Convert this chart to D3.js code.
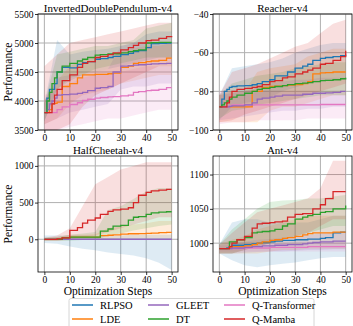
<!DOCTYPE html>
<html>
<head>
<meta charset="utf-8">
<script src="https://cdn.jsdelivr.net/npm/d3@7"></script>
<style>
  body { margin: 0; background: #fff; }
  svg text { font-family: "Liberation Serif", "DejaVu Serif", serif; fill: #000; }
</style>
</head>
<body>
<div id="chart"></div>
<script>
// ---- data ----
const methods = ['RLPSO', 'LDE', 'GLEET', 'DT', 'Q-Transformer', 'Q-Mamba'];
const colors = ['#1f77b4', '#ff7f0e', '#9467bd', '#2ca02c', '#e377c2', '#d62728'];
const drawOrder = [0, 1, 4, 2, 3, 5];

const steps = [0, 1, 2, 3, 4, 5, 7, 10, 13, 15, 17, 20, 22, 25, 27, 30, 33, 35, 37, 40, 42, 45, 48, 50];
const bandSteps = [0, 5, 10, 15, 20, 25, 30, 35, 40, 45, 50];

// InvertedDoublePendulum-v4
const idpMean = [
  [3800, 4050, 4200, 4200, 4300, 4500, 4580, 4570, 4630, 4660, 4680, 4720, 4730, 4750, 4770, 4800, 4820, 4850, 4870, 4920, 4990, 4995, 5000, 5000],
  [3800, 3800, 3850, 3950, 3960, 3980, 4250, 4300, 4400, 4450, 4450, 4460, 4460, 4470, 4480, 4580, 4600, 4650, 4660, 4680, 4690, 4700, 4740, 4740],
  [3800, 3850, 3950, 4000, 4050, 4100, 4110, 4120, 4130, 4150, 4180, 4220, 4230, 4250, 4500, 4600, 4610, 4620, 4625, 4630, 4640, 4645, 4650, 4650],
  [3800, 4000, 4150, 4300, 4400, 4500, 4600, 4650, 4690, 4720, 4750, 4790, 4800, 4810, 4815, 4830, 4850, 4870, 4880, 5000, 5005, 5010, 5010, 5010],
  [3800, 3800, 3800, 3800, 3800, 3850, 3900, 3940, 3970, 4010, 4030, 4050, 4060, 4070, 4075, 4090, 4100, 4150, 4160, 4180, 4185, 4200, 4230, 4230],
  [3800, 3800, 3800, 3950, 4100, 4200, 4350, 4450, 4580, 4650, 4680, 4750, 4770, 4800, 4830, 4880, 4920, 4960, 5000, 5040, 5050, 5080, 5110, 5120]
];
const idpLow = [
  [3650, 4200, 4350, 4450, 4500, 4550, 4600, 4650, 4700, 4750, 4750],
  [3600, 3700, 3950, 4100, 4150, 4200, 4300, 4350, 4400, 4450, 4450],
  [3600, 3700, 3800, 3850, 3900, 3950, 4200, 4250, 4250, 4300, 4300],
  [3650, 4200, 4400, 4450, 4550, 4600, 4650, 4700, 4750, 4750, 4750],
  [3500, 3500, 3550, 3600, 3650, 3700, 3700, 3750, 3800, 3850, 3850],
  [3500, 3500, 3600, 3900, 4100, 4200, 4300, 4400, 4500, 4600, 4600]
];
const idpHigh = [
  [3950, 5050, 4800, 4850, 4880, 4900, 4950, 5000, 5150, 5200, 5200],
  [4000, 4350, 4600, 4700, 4750, 4750, 4850, 4900, 4950, 4950, 5000],
  [4000, 4400, 4450, 4450, 4500, 4550, 4950, 5000, 5000, 5000, 5000],
  [3950, 4800, 4850, 4900, 4950, 4950, 5000, 5050, 5250, 5300, 5350],
  [4100, 4200, 4300, 4400, 4450, 4450, 4500, 4550, 4600, 4600, 4600],
  [4600, 4800, 5000, 5050, 5100, 5150, 5200, 5250, 5300, 5350, 5350]
];

// Reacher-v4
const reacherMean = [
  [-88, -84, -80, -79, -78, -77.5, -77.2, -77, -76.6, -76, -75, -74, -72, -72, -70, -68, -67, -66, -64, -63, -62.5, -62, -61.5, -61],
  [-88, -88, -88, -88, -88, -88, -88, -88, -80, -80, -78, -77.5, -77.3, -77, -76.8, -76.5, -76, -75, -71, -70.5, -70.3, -70, -70, -70],
  [-88, -88, -88, -88, -87.8, -87.5, -87.5, -87, -86, -84, -83.5, -83, -82.5, -82, -82, -82, -81.5, -81.5, -81, -81, -80.8, -80.5, -80, -80],
  [-88, -87, -86, -85, -84, -83, -82, -81, -80, -79, -78.5, -78, -77.5, -77, -76.5, -76, -75.8, -75.5, -75, -74.5, -74.3, -74, -73.5, -73],
  [-88, -88, -88, -88, -87.5, -87, -87, -87, -87, -87, -87, -87, -87, -87, -87, -87, -87, -87, -87, -86.8, -86.8, -86.8, -86.8, -86.8],
  [-88, -88, -88, -86, -83, -80, -79, -78.5, -78, -77.5, -76.5, -75, -74.5, -73, -72.5, -71, -70, -69, -68, -66, -65.5, -64, -62, -59]
];
const reacherLow = [
  [-95, -88, -86, -85, -83, -80, -78, -76, -75, -74, -74],
  [-96, -96, -96, -96, -90, -88, -88, -86, -84, -82, -82],
  [-95, -94, -93, -92, -91, -90, -90, -89, -89, -88, -88],
  [-94, -90, -89, -87, -86, -85, -84, -83, -82, -82, -82],
  [-97, -96, -96, -95, -95, -95, -95, -94, -94, -94, -94],
  [-96, -95, -92, -90, -88, -86, -84, -82, -80, -78, -76]
];
const reacherHigh = [
  [-82, -68, -67, -66, -65, -63, -60, -58, -56, -55, -55],
  [-82, -80, -80, -70, -68, -67, -66, -62, -60, -58, -58],
  [-82, -81, -80, -78, -76, -75, -74, -74, -73, -73, -73],
  [-82, -76, -74, -72, -71, -70, -68, -67, -66, -65, -65],
  [-80, -80, -80, -80, -80, -80, -80, -80, -80, -80, -80],
  [-82, -70, -68, -66, -63, -60, -57, -55, -50, -45, -43]
];

// HalfCheetah-v4
const cheetahMean = [
  [0, 0, 0, 0, 0, 0, 0, 0, 0, 0, 0, 0, 0, 0, 0, 0, 0, 0, 0, 0, 0, 0, 0, 0],
  [0, 0, 0, 0, 0, 5, 20, 30, 30, 30, 30, 30, 50, 55, 60, 70, 75, 75, 78, 80, 85, 90, 95, 95],
  [0, 0, 0, 0, 0, 0, 0, 0, 0, 0, 0, 0, 0, 0, 0, 0, 0, 0, 0, 0, 0, 0, 0, 0],
  [0, 0, 0, 0, 0, 0, 20, 30, 30, 30, 30, 30, 110, 140, 180, 190, 260, 300, 310, 340, 360, 370, 375, 375],
  [0, 0, 0, 0, 0, 0, 0, 0, 0, 0, 0, 0, 0, 0, 0, 0, 0, 0, 0, 0, 0, 0, 0, 0],
  [0, 0, 0, 0, 0, 5, 20, 120, 160, 220, 260, 290, 340, 380, 400, 410, 430, 500, 600, 640, 660, 670, 680, 680]
];
const cheetahLow = [
  [-50, -60, -100, -130, -150, -180, -200, -220, -260, -320, -420],
  [-20, -20, -10, -10, -10, 0, 10, 10, 10, 10, 10],
  [-5, -5, -5, -5, -5, -5, -5, -5, -5, -5, -5],
  [-20, -20, -20, -10, -10, 50, 80, 120, 150, 180, 200],
  [-5, -5, -5, -5, -5, -5, -5, -5, -5, -5, -5],
  [-20, -20, 0, 20, 50, 100, 150, 200, 250, 300, 300]
];
const cheetahHigh = [
  [50, 50, 50, 50, 50, 50, 50, 60, 60, 60, 60],
  [20, 30, 60, 60, 70, 150, 170, 200, 220, 250, 250],
  [5, 5, 5, 5, 5, 5, 5, 5, 5, 5, 5],
  [20, 30, 60, 80, 100, 400, 450, 550, 650, 700, 700],
  [5, 5, 5, 5, 5, 5, 5, 5, 5, 5, 5],
  [20, 50, 150, 450, 750, 850, 950, 1000, 1050, 1050, 1050]
];

// Ant-v4
const antMean = [
  [992, 992, 992, 993, 995, 997, 997, 998, 999, 1000, 1001, 1002, 1003, 1004, 1004, 1005, 1005, 1006, 1006, 1007, 1008, 1015, 1016, 1016],
  [992, 992, 992, 992, 994, 995, 995, 996, 998, 1000, 1002, 1004, 1005, 1007, 1008, 1010, 1012, 1014, 1015, 1015, 1015, 1016, 1016, 1016],
  [992, 992, 992, 992, 992, 993, 993, 994, 995, 995, 996, 996, 997, 997, 998, 998, 999, 1000, 1001, 1002, 1002, 1003, 1003, 1003],
  [992, 992, 992, 992, 1002, 1002, 1005, 1008, 1015, 1016, 1017, 1018, 1020, 1025, 1028, 1035, 1038, 1040, 1042, 1045, 1046, 1050, 1050, 1055],
  [992, 992, 992, 992, 992, 992, 992, 993, 993, 993, 993, 994, 994, 994, 994, 994, 994, 995, 995, 995, 995, 995, 995, 995],
  [992, 992, 992, 992, 995, 1000, 1005, 1010, 1022, 1028, 1029, 1030, 1031, 1032, 1038, 1042, 1043, 1043, 1050, 1056, 1065, 1075, 1075, 1075]
];
const antLow = [
  [985, 975, 968, 965, 968, 970, 972, 975, 978, 980, 980],
  [985, 985, 985, 985, 988, 990, 990, 992, 992, 992, 992],
  [985, 985, 986, 987, 988, 988, 989, 990, 990, 991, 991],
  [985, 985, 990, 995, 1000, 1005, 1010, 1015, 1020, 1025, 1025],
  [988, 988, 988, 988, 988, 988, 988, 988, 988, 988, 988],
  [985, 985, 990, 995, 1000, 1005, 1010, 1015, 1025, 1035, 1035]
];
const antHigh = [
  [998, 1030, 1035, 1035, 1030, 1030, 1030, 1030, 1035, 1040, 1040],
  [998, 1005, 1010, 1020, 1025, 1030, 1035, 1040, 1040, 1040, 1040],
  [998, 1000, 1002, 1005, 1006, 1008, 1010, 1012, 1014, 1015, 1015],
  [998, 1020, 1035, 1050, 1060, 1062, 1063, 1065, 1065, 1068, 1070],
  [996, 998, 998, 999, 1000, 1000, 1001, 1002, 1002, 1003, 1003],
  [998, 1015, 1030, 1045, 1050, 1055, 1060, 1065, 1080, 1120, 1120]
];

const xTicks = [0, 10, 20, 30, 40, 50];
const idpTicks = [3500, 4000, 4500, 5000, 5500];
const reacherTicks = [-100, -80, -60, -40];
const cheetahTicks = [0, 500, 1000];
const antTicks = [1000, 1050, 1100];

// ---- layout ----
const W = 353, H = 326;
const panels = [
  { title: 'InvertedDoublePendulum-v4', mean: idpMean, lo: idpLow, hi: idpHigh, yDomain: [3500, 5500], yTicks: idpTicks,
    x0: 38, x1: 178, y0: 14, y1: 130, ylabel: true, xlabel: false },
  { title: 'Reacher-v4', mean: reacherMean, lo: reacherLow, hi: reacherHigh, yDomain: [-100, -40], yTicks: reacherTicks,
    x0: 213, x1: 352, y0: 14, y1: 130, ylabel: false, xlabel: false },
  { title: 'HalfCheetah-v4', mean: cheetahMean, lo: cheetahLow, hi: cheetahHigh, yDomain: [-446, 1135], yTicks: cheetahTicks,
    x0: 38, x1: 178, y0: 156, y1: 272, ylabel: true, xlabel: true },
  { title: 'Ant-v4', mean: antMean, lo: antLow, hi: antHigh, yDomain: [958, 1127], yTicks: antTicks,
    x0: 213, x1: 352, y0: 156, y1: 272, ylabel: false, xlabel: true }
];

const svg = d3.select('#chart').append('svg')
  .attr('width', W).attr('height', H);

const fmt = v => String(v).replace('-', '\u2212');

panels.forEach((p, pi) => {
  const x = d3.scaleLinear().domain([-2.5, 52.5]).range([p.x0, p.x1]);
  const y = d3.scaleLinear().domain(p.yDomain).range([p.y1, p.y0]);

  const g = svg.append('g');
  const clipId = 'clip' + pi;
  svg.append('clipPath').attr('id', clipId)
    .append('rect').attr('x', p.x0).attr('y', p.y0).attr('width', p.x1 - p.x0).attr('height', p.y1 - p.y0);

  // grid
  g.append('g').selectAll('line').data(xTicks).join('line')
    .attr('x1', d => x(d)).attr('x2', d => x(d)).attr('y1', p.y0).attr('y2', p.y1)
    .attr('stroke', '#b0b0b0').attr('stroke-width', 1);
  g.append('g').selectAll('line').data(p.yTicks).join('line')
    .attr('x1', p.x0).attr('x2', p.x1).attr('y1', d => y(d)).attr('y2', d => y(d))
    .attr('stroke', '#b0b0b0').attr('stroke-width', 1);

  const plot = g.append('g').attr('clip-path', `url(#${clipId})`);

  // bands
  const area = d3.area().x((d, i) => x(bandSteps[i])).y0(d => y(d[0])).y1(d => y(d[1]));
  drawOrder.forEach(m => {
    const pts = bandSteps.map((s, i) => [p.lo[m][i], p.hi[m][i]]);
    plot.append('path').datum(pts)
      .attr('d', area)
      .attr('fill', colors[m]).attr('fill-opacity', 0.15).attr('stroke', 'none');
  });

  // mean lines
  const line = d3.line().x((d, i) => x(steps[i])).y(d => y(d)).curve(d3.curveStepAfter);
  drawOrder.forEach(m => {
    plot.append('path').datum(p.mean[m])
      .attr('d', line)
      .attr('fill', 'none').attr('stroke', colors[m]).attr('stroke-width', 1.3);
  });

  // axes
  const xAxis = d3.axisBottom(x).tickValues(xTicks).tickSize(3).tickPadding(1).tickFormat(d3.format('d'));
  const yAxis = d3.axisLeft(y).tickValues(p.yTicks).tickSize(3).tickPadding(1.5).tickFormat(fmt);
  const gx = g.append('g').attr('transform', `translate(0,${p.y1})`).call(xAxis);
  const gy = g.append('g').attr('transform', `translate(${p.x0},0)`).call(yAxis);
  [gx, gy].forEach(a => {
    a.select('.domain').remove();
    a.selectAll('text').attr('font-size', '9.5px').attr('font-family', '"Liberation Serif", serif');
    a.selectAll('line').attr('stroke', '#000').attr('stroke-width', 0.8);
  });

  // frame
  g.append('rect').attr('x', p.x0).attr('y', p.y0).attr('width', p.x1 - p.x0).attr('height', p.y1 - p.y0)
    .attr('fill', 'none').attr('stroke', '#000').attr('stroke-width', 0.8);

  // title
  g.append('text').attr('x', (p.x0 + p.x1) / 2).attr('y', p.y0 - 2.5)
    .attr('text-anchor', 'middle').attr('font-size', '11px').text(p.title);

  if (p.ylabel) {
    g.append('text')
      .attr('transform', `translate(12,${(p.y0 + p.y1) / 2}) rotate(-90)`)
      .attr('text-anchor', 'middle').attr('font-size', '11.5px').text('Performance');
  }
  if (p.xlabel) {
    g.append('text').attr('x', (p.x0 + p.x1) / 2).attr('y', p.y1 + 23)
      .attr('text-anchor', 'middle').attr('font-size', '11.5px').text('Optimization Steps');
  }
});

// legend
const leg = svg.append('g');
leg.append('rect').attr('x', 69).attr('y', 298.5).attr('width', 245).attr('height', 34).attr('rx', 2)
  .attr('fill', '#fff').attr('stroke', '#ccc').attr('stroke-width', 0.8);
const colX = [72, 148, 224];
const rowY = [305, 319];
methods.forEach((m, i) => {
  const cx = colX[Math.floor(i / 2)], cy = rowY[i % 2];
  leg.append('line').attr('x1', cx).attr('x2', cx + 21).attr('y1', cy).attr('y2', cy)
    .attr('stroke', colors[i]).attr('stroke-width', 1.5);
  leg.append('text').attr('x', cx + 28).attr('y', cy + 3.5).attr('font-size', '10.5px').text(m);
});
</script>
</body>
</html>
